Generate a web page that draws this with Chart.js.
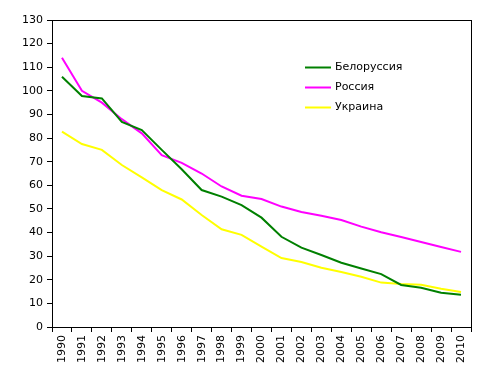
<!DOCTYPE html>
<html>
<head>
<meta charset="utf-8">
<script src="https://cdn.jsdelivr.net/npm/chart.js@4"></script>
<style>
  html, body { margin: 0; padding: 0; background: #fff; }
  #wrap { width: 485px; height: 377px; }
</style>
</head>
<body>
<div id="wrap"><canvas id="my-chart" width="485" height="377"></canvas></div>
<script>
'use strict';

// ******* DATA *********
let years = ['1990', '1991', '1992', '1993', '1994', '1995', '1996', '1997', '1998', '1999', '2000',
  '2001', '2002', '2003', '2004', '2005', '2006', '2007', '2008', '2009', '2010'];

let belarus = [106, 97.8, 96.8, 86.8, 83.4, 75, 66.8, 58, 55.2, 51.6, 46.3,
  38.2, 33.6, 30.5, 27.2, 24.8, 22.4, 17.8, 16.6, 14.5, 13.7];
let russia = [114, 100, 95, 88, 82, 72.8, 69.5, 65, 59.5, 55.6, 54.2,
  51, 48.7, 47.1, 45.3, 42.5, 40.1, 38.1, 36, 33.9, 31.8];
let ukraine = [82.7, 77.5, 75, 68.6, 63.4, 58, 54, 47.4, 41.4, 39, 34,
  29.2, 27.5, 25.1, 23.3, 21.3, 18.8, 18.2, 17.9, 16.2, 14.8];

let seriesNames = ['Белоруссия', 'Россия', 'Украина'];
let seriesColors = ['#008000', '#ff00ff', '#ffff00'];

let yMin = 0;
let yMax = 130;
let yStep = 10;

let fontFamily = '"DejaVu Sans", Verdana, sans-serif';

// ****** PLUGINS ******
// frame around the plot area (top and right sides)
let framePlugin = {
  id: 'frame',
  afterDraw(chart) {
    let a = chart.chartArea;
    let c = chart.ctx;
    c.save();
    c.strokeStyle = '#000';
    c.lineWidth = 1;
    c.strokeRect(Math.round(a.left) + 0.5, Math.round(a.top) + 0.5,
      Math.round(a.right - a.left), Math.round(a.bottom - a.top));
    c.restore();
  }
};

// legend drawn inside the plot area
let legendPlugin = {
  id: 'insideLegend',
  afterDraw(chart) {
    let c = chart.ctx;
    c.save();
    c.font = '11px ' + fontFamily;
    c.textBaseline = 'middle';
    c.fillStyle = '#000';
    chart.data.datasets.forEach((ds, i) => {
      let y = 67.5 + i * 20;
      c.strokeStyle = ds.borderColor;
      c.lineWidth = 2;
      c.beginPath();
      c.moveTo(305, y);
      c.lineTo(331, y);
      c.stroke();
      c.fillText(ds.label, 335, y);
    });
    c.restore();
  }
};

// ****** CHART ******
let ctx = document.getElementById('my-chart');

let datasets = [belarus, russia, ukraine].map((vals, i) => ({
  label: seriesNames[i],
  data: vals,
  borderColor: seriesColors[i],
  backgroundColor: seriesColors[i],
  borderWidth: 2,
  pointRadius: 0,
  tension: 0,
  fill: false
}));

new Chart(ctx, { //eslint-disable-line
  type: 'line',
  data: { labels: years, datasets: datasets },
  options: {
    responsive: false,
    animation: false,
    layout: { padding: { left: 0, top: 20, right: 14, bottom: 0 } },
    plugins: {
      legend: { display: false },
      tooltip: { enabled: false }
    },
    scales: {
      x: {
        offset: true,
        grid: {
          offset: true,
          drawOnChartArea: false,
          drawTicks: true,
          tickLength: 5,
          color: '#000'
        },
        border: { color: '#000', width: 1 },
        ticks: {
          color: '#000',
          font: { family: fontFamily, size: 11 },
          minRotation: 90,
          maxRotation: 90,
          autoSkip: false,
          padding: 3
        },
        afterFit(scale) { scale.height = 50; }
      },
      y: {
        min: yMin,
        max: yMax,
        grid: {
          drawOnChartArea: false,
          drawTicks: true,
          tickLength: 5,
          color: '#000'
        },
        border: { color: '#000', width: 1 },
        ticks: {
          stepSize: yStep,
          color: '#000',
          font: { family: fontFamily, size: 11 },
          padding: 4
        },
        afterFit(scale) { scale.width = 52; }
      }
    }
  },
  plugins: [framePlugin, legendPlugin]
});
</script>
</body>
</html>
